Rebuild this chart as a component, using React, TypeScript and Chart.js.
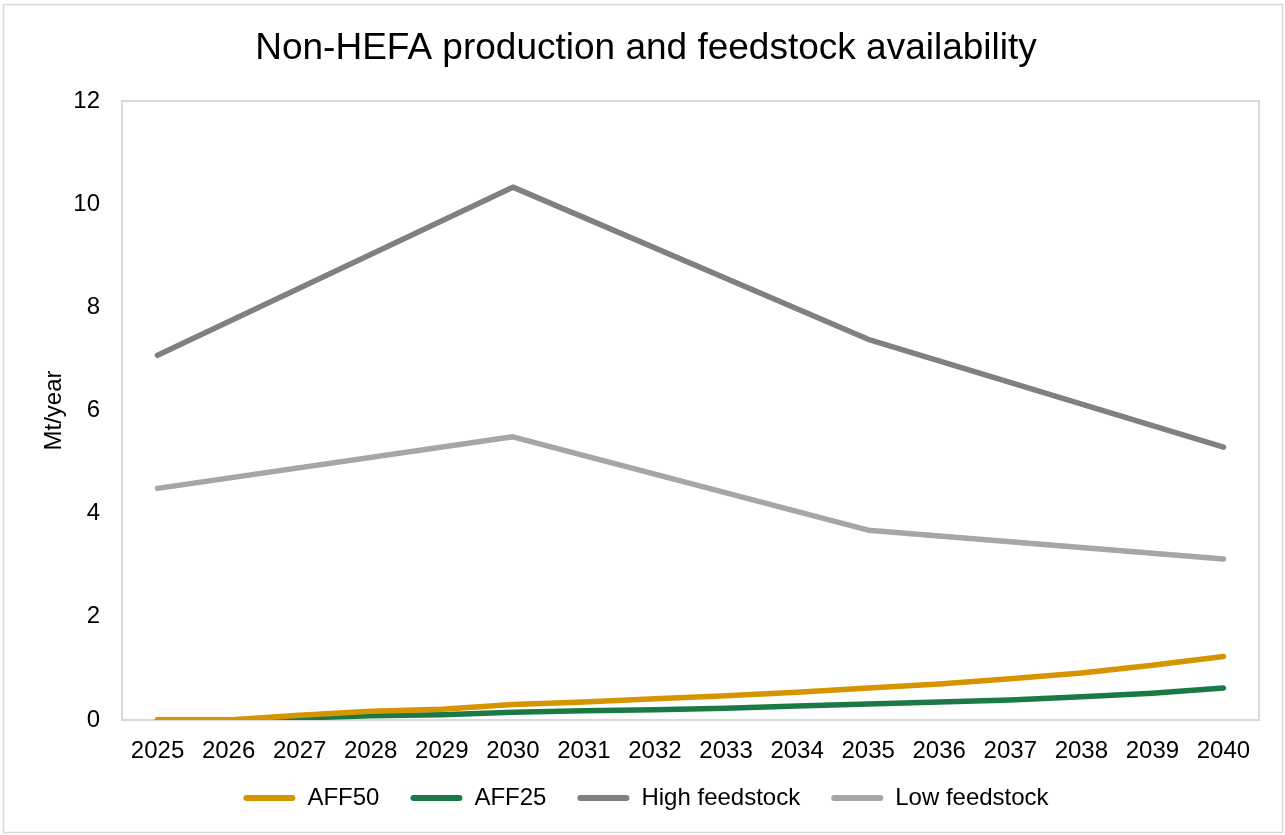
import React, { useEffect, useRef } from "react";
import { Chart, registerables } from "chart.js";

Chart.register(...registerables);

const years = [
  "2025", "2026", "2027", "2028", "2029", "2030", "2031", "2032",
  "2033", "2034", "2035", "2036", "2037", "2038", "2039", "2040",
];
const aff50 = [0, 0, 0.09, 0.17, 0.21, 0.3, 0.35, 0.41, 0.47, 0.54, 0.62, 0.7, 0.8, 0.91, 1.06, 1.23];
const aff25 = [0, 0, 0.04, 0.08, 0.1, 0.15, 0.18, 0.2, 0.23, 0.27, 0.31, 0.35, 0.39, 0.45, 0.52, 0.62];
const highFeedstock = [7.07, null, null, null, null, 10.33, null, null, null, null, 7.38, null, null, null, null, 5.29];
const lowFeedstock = [4.49, null, null, null, null, 5.49, null, null, null, null, 3.68, null, null, null, null, 3.12];
const yTickValues = [0, 2, 4, 6, 8, 10, 12];

const seriesNames = ["AFF50", "AFF25", "High feedstock", "Low feedstock"];
const seriesColors = ["#D69500", "#1A7A46", "#808080", "#A6A6A6"];

const FONT = "'Liberation Sans', Arial, sans-serif";

const bordersPlugin = {
  id: "bordersPlugin",
  afterLayout(chart: any) {
    const lg = chart.legend;
    if (lg) {
      lg.top -= 9;
      lg.bottom -= 9;
    }
  },
  beforeDraw(chart: any) {
    const ctx = chart.ctx;
    ctx.save();
    ctx.fillStyle = "#ffffff";
    ctx.fillRect(0, 0, chart.width, chart.height);
    ctx.strokeStyle = "#D9D9D9";
    ctx.lineWidth = 1.5;
    ctx.strokeRect(3.5, 4.5, chart.width - 6, chart.height - 7);
    ctx.restore();
  },
  beforeDatasetsDraw(chart: any) {
    const { ctx, chartArea } = chart;
    ctx.save();
    ctx.strokeStyle = "#D9D9D9";
    ctx.lineWidth = 2;
    ctx.strokeRect(chartArea.left, chartArea.top, chartArea.right - chartArea.left, chartArea.bottom - chartArea.top);
    ctx.restore();
  },
};

export default function App() {
  const ref = useRef<HTMLCanvasElement | null>(null);

  useEffect(() => {
    if (!ref.current) return;
    const seriesData = [aff50, aff25, highFeedstock, lowFeedstock];
    const chart = new Chart(ref.current, {
      type: "line",
      data: {
        labels: years,
        datasets: seriesNames.map((name, i) => ({
          label: name,
          data: seriesData[i],
          borderColor: seriesColors[i],
          backgroundColor: seriesColors[i],
          borderWidth: 5.5,
          pointRadius: 0,
          pointHoverRadius: 0,
          borderCapStyle: "round",
          borderJoinStyle: "round",
          spanGaps: true,
          tension: 0,
          fill: false,
        })),
      },
      options: {
        animation: false,
        responsive: false,
        maintainAspectRatio: false,
        layout: { padding: { left: 33, right: 26, top: 0, bottom: 6 } },
        plugins: {
          title: {
            display: true,
            text: "Non-HEFA production and feedstock availability",
            color: "#000000",
            font: { family: FONT, size: 37, weight: "normal" },
            padding: { top: 26.8, bottom: 29.8 },
          },
          legend: {
            display: true,
            position: "bottom",
            maxHeight: 73,
            labels: {
              color: "#000000",
              font: { family: FONT, size: 24 },
              boxWidth: 52,
              boxHeight: 6,
              padding: 31,
              useBorderRadius: true,
              borderRadius: 3,
              generateLabels: (c: any) =>
                c.data.datasets.map((ds: any, i: number) => ({
                  text: ds.label,
                  fillStyle: ds.borderColor,
                  strokeStyle: ds.borderColor,
                  lineWidth: 0,
                  hidden: false,
                  datasetIndex: i,
                  fontColor: "#000000",
                  borderRadius: 3,
                })),
            },
          },
          tooltip: { enabled: false },
        },
        scales: {
          x: {
            type: "category",
            offset: true,
            grid: { display: false, drawTicks: false },
            border: { display: false },
            ticks: {
              color: "#000000",
              font: { family: FONT, size: 24 },
              padding: 17,
              maxRotation: 0,
              autoSkip: false,
            },
            afterFit: (s: any) => {
              s.height = 44;
            },
          },
          y: {
            min: 0,
            max: 12,
            grid: { display: false, drawTicks: false },
            border: { display: false },
            afterBuildTicks: (s: any) => {
              s.ticks = yTickValues.map((v) => ({ value: v }));
            },
            ticks: {
              color: "#000000",
              font: { family: FONT, size: 24 },
              padding: 22,
            },
            title: {
              display: true,
              text: "Mt/year",
              color: "#000000",
              font: { family: FONT, size: 24 },
              padding: { top: 6.5, bottom: 0 },
            },
            afterFit: (s: any) => {
              s.width = 89;
            },
          },
        },
      },
      plugins: [bordersPlugin],
    } as any);
    return () => chart.destroy();
  }, []);

  return (
    <div style={{ position: "absolute", left: 0, top: 0, width: 1285, height: 835, background: "#fff" }}>
      <canvas ref={ref} width={1285} height={835} style={{ width: 1285, height: 835, display: "block" }} />
    </div>
  );
}
